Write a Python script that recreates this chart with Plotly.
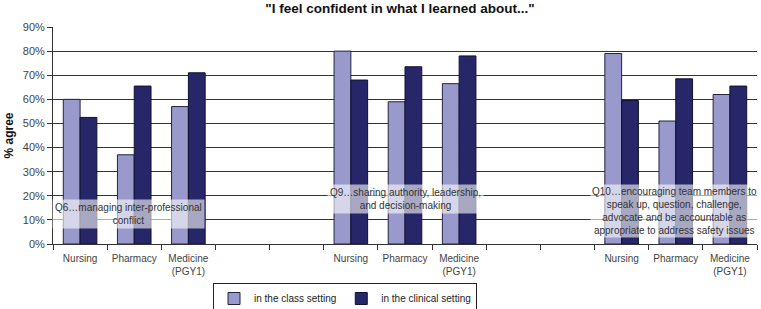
import plotly.graph_objects as go

categories = ["Nursing", "Pharmacy", "Medicine<br>(PGY1)", "", "",
              "Nursing", "Pharmacy", "Medicine<br>(PGY1)", "", "",
              "Nursing", "Pharmacy", "Medicine<br>(PGY1)"]
class_setting = [60, 37, 57, None, None, 80, 59, 66.5, None, None, 79, 51, 62]
clinical_setting = [52.5, 65.5, 71, None, None, 68, 73.5, 78, None, None, 59.5, 68.5, 65.5]
y_ticks = [0, 10, 20, 30, 40, 50, 60, 70, 80, 90]
y_tick_labels = [f"{v}%" for v in y_ticks]
question_labels = [
    "Q6…managing inter-professional<br>conflict",
    "Q9…sharing authority, leadership,<br>and decision-making",
    "Q10…encouraging team members to<br>speak up, question, challenge,<br>advocate and be accountable as<br>appropriate to address safety issues",
]

xpos = list(range(len(categories)))

fig = go.Figure()
fig.add_trace(go.Bar(x=xpos, y=class_setting, name="in the class setting",
                     marker=dict(color="#9999CC", line=dict(color="#222244", width=1))))
fig.add_trace(go.Bar(x=xpos, y=clinical_setting, name="in the clinical setting",
                     marker=dict(color="#262669", line=dict(color="#111133", width=1))))

font_fam = "Liberation Sans, Arial, sans-serif"
W, H = 761, 309
PL, PR = 53, 757  # plot area edges in pixels


def px_to_paper(px):
    return (px - PL) / (PR - PL)


fig.update_layout(
    width=W, height=H,
    margin=dict(l=PL, r=W - PR, t=27, b=65, autoexpand=False),
    paper_bgcolor="white", plot_bgcolor="white",
    barmode="group", bargap=0.38, bargroupgap=0,
    font=dict(family=font_fam, size=10, color="#444"),
    title=dict(text='<b>"I feel confident in what I learned about..."</b>',
               x=400 / W, xanchor="center", y=1 - 8 / H, yanchor="middle",
               font=dict(size=13.5, color="#111", family=font_fam)),
    showlegend=True,
    legend=dict(orientation="h", xref="container", yref="container",
                x=345 / W, xanchor="center", y=1 - 283 / H, yanchor="top",
                bordercolor="#222", borderwidth=1, font=dict(size=10, color="#222"),
                itemwidth=30, traceorder="normal", tracegroupgap=0),
    xaxis=dict(range=[-0.5, 12.5], tickmode="array", tickvals=xpos, ticktext=categories,
               ticklen=0, showgrid=False, zeroline=False, ticklabelstandoff=5,
               showline=True, linecolor="#333", linewidth=1, automargin=False,
               tickfont=dict(size=10, color="#444"),
               minor=dict(tickmode="array", tickvals=[i - 0.5 for i in range(14)],
                          ticklen=5, tickcolor="#333", ticks="outside", showgrid=False)),
    yaxis=dict(range=[0, 90], tickmode="array", tickvals=y_ticks, ticktext=y_tick_labels,
               ticks="outside", ticklen=5, tickcolor="#333", automargin=False,
               showgrid=True, gridcolor="#333", gridwidth=1, zeroline=False,
               showline=True, linecolor="#333", linewidth=1,
               tickfont=dict(size=11, color="#444"),
               title=dict(text="<b>% agree</b>", font=dict(size=12, color="#111"), standoff=6)),
)

fig.add_annotation(x=0.9, y=12.5, xref="x", yref="y", text=question_labels[0], showarrow=False,
                   bgcolor="rgba(255,255,255,0.6)", font=dict(size=10, color="#333"),
                   align="center", borderpad=2)
fig.add_annotation(x=6.0, y=18.5, xref="x", yref="y", text=question_labels[1], showarrow=False,
                   bgcolor="rgba(255,255,255,0.6)", font=dict(size=10, color="#333"),
                   align="center", borderpad=2)
fig.add_annotation(x=px_to_paper(759), y=13.5, xref="paper", yref="y", xanchor="right",
                   text=question_labels[2], showarrow=False,
                   bgcolor="rgba(255,255,255,0.6)", font=dict(size=10, color="#333"),
                   align="center", borderpad=1)

fig.write_html("out.html", config={"displayModeBar": False},
               post_script="document.body.style.margin='0';")
